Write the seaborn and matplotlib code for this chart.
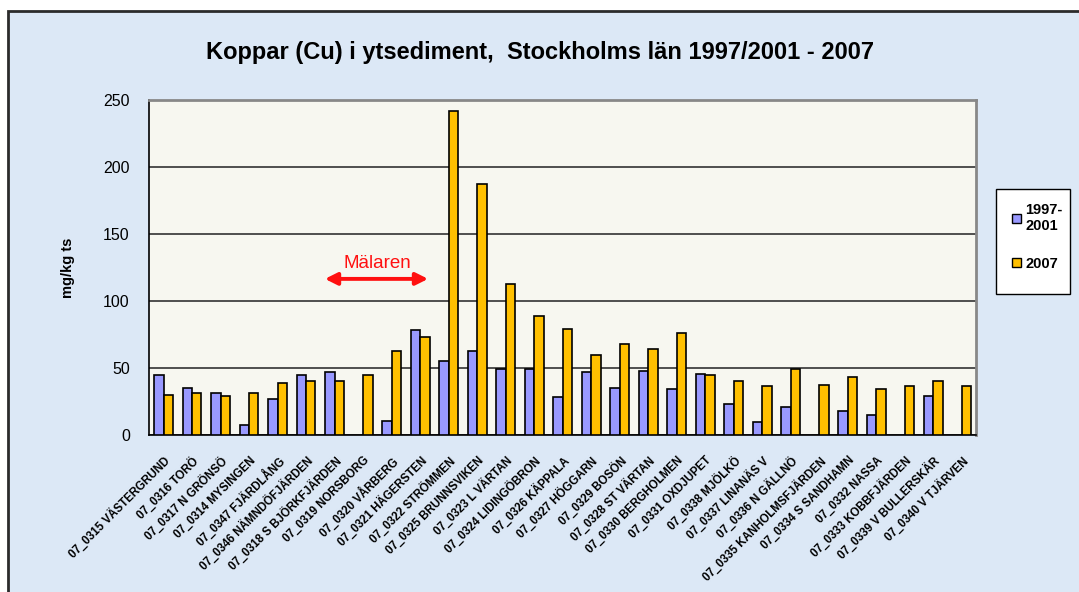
import numpy as np
import pandas as pd
import matplotlib
matplotlib.use("Agg")
import matplotlib.pyplot as plt
from matplotlib.patches import Rectangle, Patch
from matplotlib.ticker import FixedLocator
import seaborn as sns

stations = [
    "07_0315 VÄSTERGRUND", "07_0316 TORÖ", "07_0317 N GRÖNSÖ", "07_0314 MYSINGEN",
    "07_0347 FJÄRDLÅNG", "07_0346 NÄMNDÖFJÄRDEN", "07_0318 S BJÖRKFJÄRDEN",
    "07_0319 NORSBORG", "07_0320 VÅRBERG", "07_0321 HÄGERSTEN", "07_0322 STRÖMMEN",
    "07_0325 BRUNNSVIKEN", "07_0323 L VÄRTAN", "07_0324 LIDINGÖBRON", "07_0326 KÄPPALA",
    "07_0327 HÖGGARN", "07_0329 BOSÖN", "07_0328 ST VÄRTAN", "07_0330 BERGHOLMEN",
    "07_0331 OXDJUPET", "07_0338 MJÖLKÖ", "07_0337 LINANÄS V", "07_0336 N GÄLLNÖ",
    "07_0335 KANHOLMSFJÄRDEN", "07_0334 S SANDHAMN", "07_0332 NASSA",
    "07_0333 KOBBFJÄRDEN", "07_0339 V BULLERSKÄR", "07_0340 V TJÄRVEN",
]
series_names = ["1997-2001", "2007"]
legend_labels = ["1997-\n2001", "2007"]
vals_1997_2001 = [45, 35, 31, 7.5, 26.5, 45, 47, np.nan, 10.5, 78, 55, 63, 49, 49, 28,
                  47, 35, 48, 34, 45.5, 23, 9.5, 21, np.nan, 18, 15, np.nan, 29, np.nan]
vals_2007 = [30, 31, 29, 31, 38.5, 40.5, 40.5, 45, 63, 73, 242, 187, 113, 89, 79,
             60, 68, 64, 76, 44.5, 40.5, 36.5, 49, 37.5, 43.5, 34, 36.5, 40.5, 36.5]
yticks = [0, 50, 100, 150, 200, 250]

df = pd.DataFrame({
    "station": stations * 2,
    "serie": [series_names[0]] * len(stations) + [series_names[1]] * len(stations),
    "value": vals_1997_2001 + vals_2007,
})

sns.set_style("white")
plt.rcParams["font.family"] = ["Liberation Sans", "DejaVu Sans"]
plt.rcParams["text.color"] = "black"
plt.rcParams["xtick.color"] = "black"
plt.rcParams["ytick.color"] = "black"
plt.rcParams["axes.labelcolor"] = "black"

W, H = 1079, 592
fig = plt.figure(figsize=(W / 100, H / 100), dpi=100, facecolor="white")
# outer chart area
fig.patches.append(Rectangle((8 / W, -0.02), 1.0, 1 - 11 / H + 0.02, transform=fig.transFigure,
                             facecolor="#DCE8F6", edgecolor="#2b2b2b", linewidth=2, zorder=-10))
# legend box
fig.patches.append(Rectangle((996 / W, 1 - 294 / H), 74 / W, 105 / H, transform=fig.transFigure,
                             facecolor="white", edgecolor="black", linewidth=1, zorder=2))

ax = fig.add_axes([149.3 / W, 1 - 435 / H, (976 - 149.3) / W, (435 - 100) / H])
ax.set_facecolor("#F7F7F0")

sns.barplot(data=df, x="station", y="value", hue="serie", order=stations,
            hue_order=series_names, palette=["#9999FF", "#FFC000"], saturation=1,
            edgecolor="black", linewidth=1.2, width=0.66, gap=0, ax=ax,
            legend=False, zorder=3)

ax.set_ylim(0, 250)
ax.set_xlim(-0.5, len(stations) - 0.5)
ax.set_yticks(yticks)
ax.set_yticklabels([str(t) for t in yticks], fontsize=11.5)
ax.yaxis.grid(True, color="#222222", linewidth=1.1, zorder=1)
ax.set_axisbelow(True)

ax.set_xticks(range(len(stations)))
ax.set_xticklabels(stations, rotation=45, ha="right", rotation_mode="anchor",
                   fontsize=8.3, fontweight="bold")
ax.tick_params(axis="x", which="major", length=0, pad=14)
ax.xaxis.set_minor_locator(FixedLocator(np.arange(-0.5, len(stations), 1.0)))
ax.tick_params(axis="x", which="minor", length=5, width=1, color="black", direction="out")
ax.tick_params(axis="y", length=5, width=1, color="black", direction="out", pad=9)

for s in ["left", "bottom"]:
    ax.spines[s].set_color("black")
    ax.spines[s].set_linewidth(1.2)
for s in ["top", "right"]:
    ax.spines[s].set_color("#888888")
    ax.spines[s].set_linewidth(2)

ax.set_xlabel("")
ax.set_ylabel("mg/kg ts", fontsize=10.5, fontweight="bold", labelpad=20)

fig.text(0.5, 1 - 52 / H, "Koppar (Cu) i ytsediment,  Stockholms län 1997/2001 - 2007",
         ha="center", va="center", fontsize=17, fontweight="bold")

# Mälaren annotation
ax.annotate("", xy=(5.66, 116.5), xytext=(9.28, 116.5),
            arrowprops=dict(arrowstyle="<|-|>", color="#FF1010", lw=2.8,
                            mutation_scale=18, shrinkA=0, shrinkB=0), zorder=5)
ax.text(7.49, 128, "Mälaren", color="#FF1010", fontsize=13.5, ha="center", va="center", zorder=5)

handles = [Patch(facecolor="#9999FF", edgecolor="black", linewidth=1),
           Patch(facecolor="#FFC000", edgecolor="black", linewidth=1)]
leg = fig.legend(handles, legend_labels, loc="upper left",
                 bbox_to_anchor=(1012 / W, 1 - 203 / H), frameon=False,
                 prop={"weight": "bold", "size": 10.5},
                 handlelength=0.6, handleheight=0.6,
                 handletextpad=0.3, labelspacing=1.6, borderpad=0, borderaxespad=0)
leg.set_zorder(3)

fig.savefig("out.png", dpi=100, facecolor=fig.get_facecolor())
